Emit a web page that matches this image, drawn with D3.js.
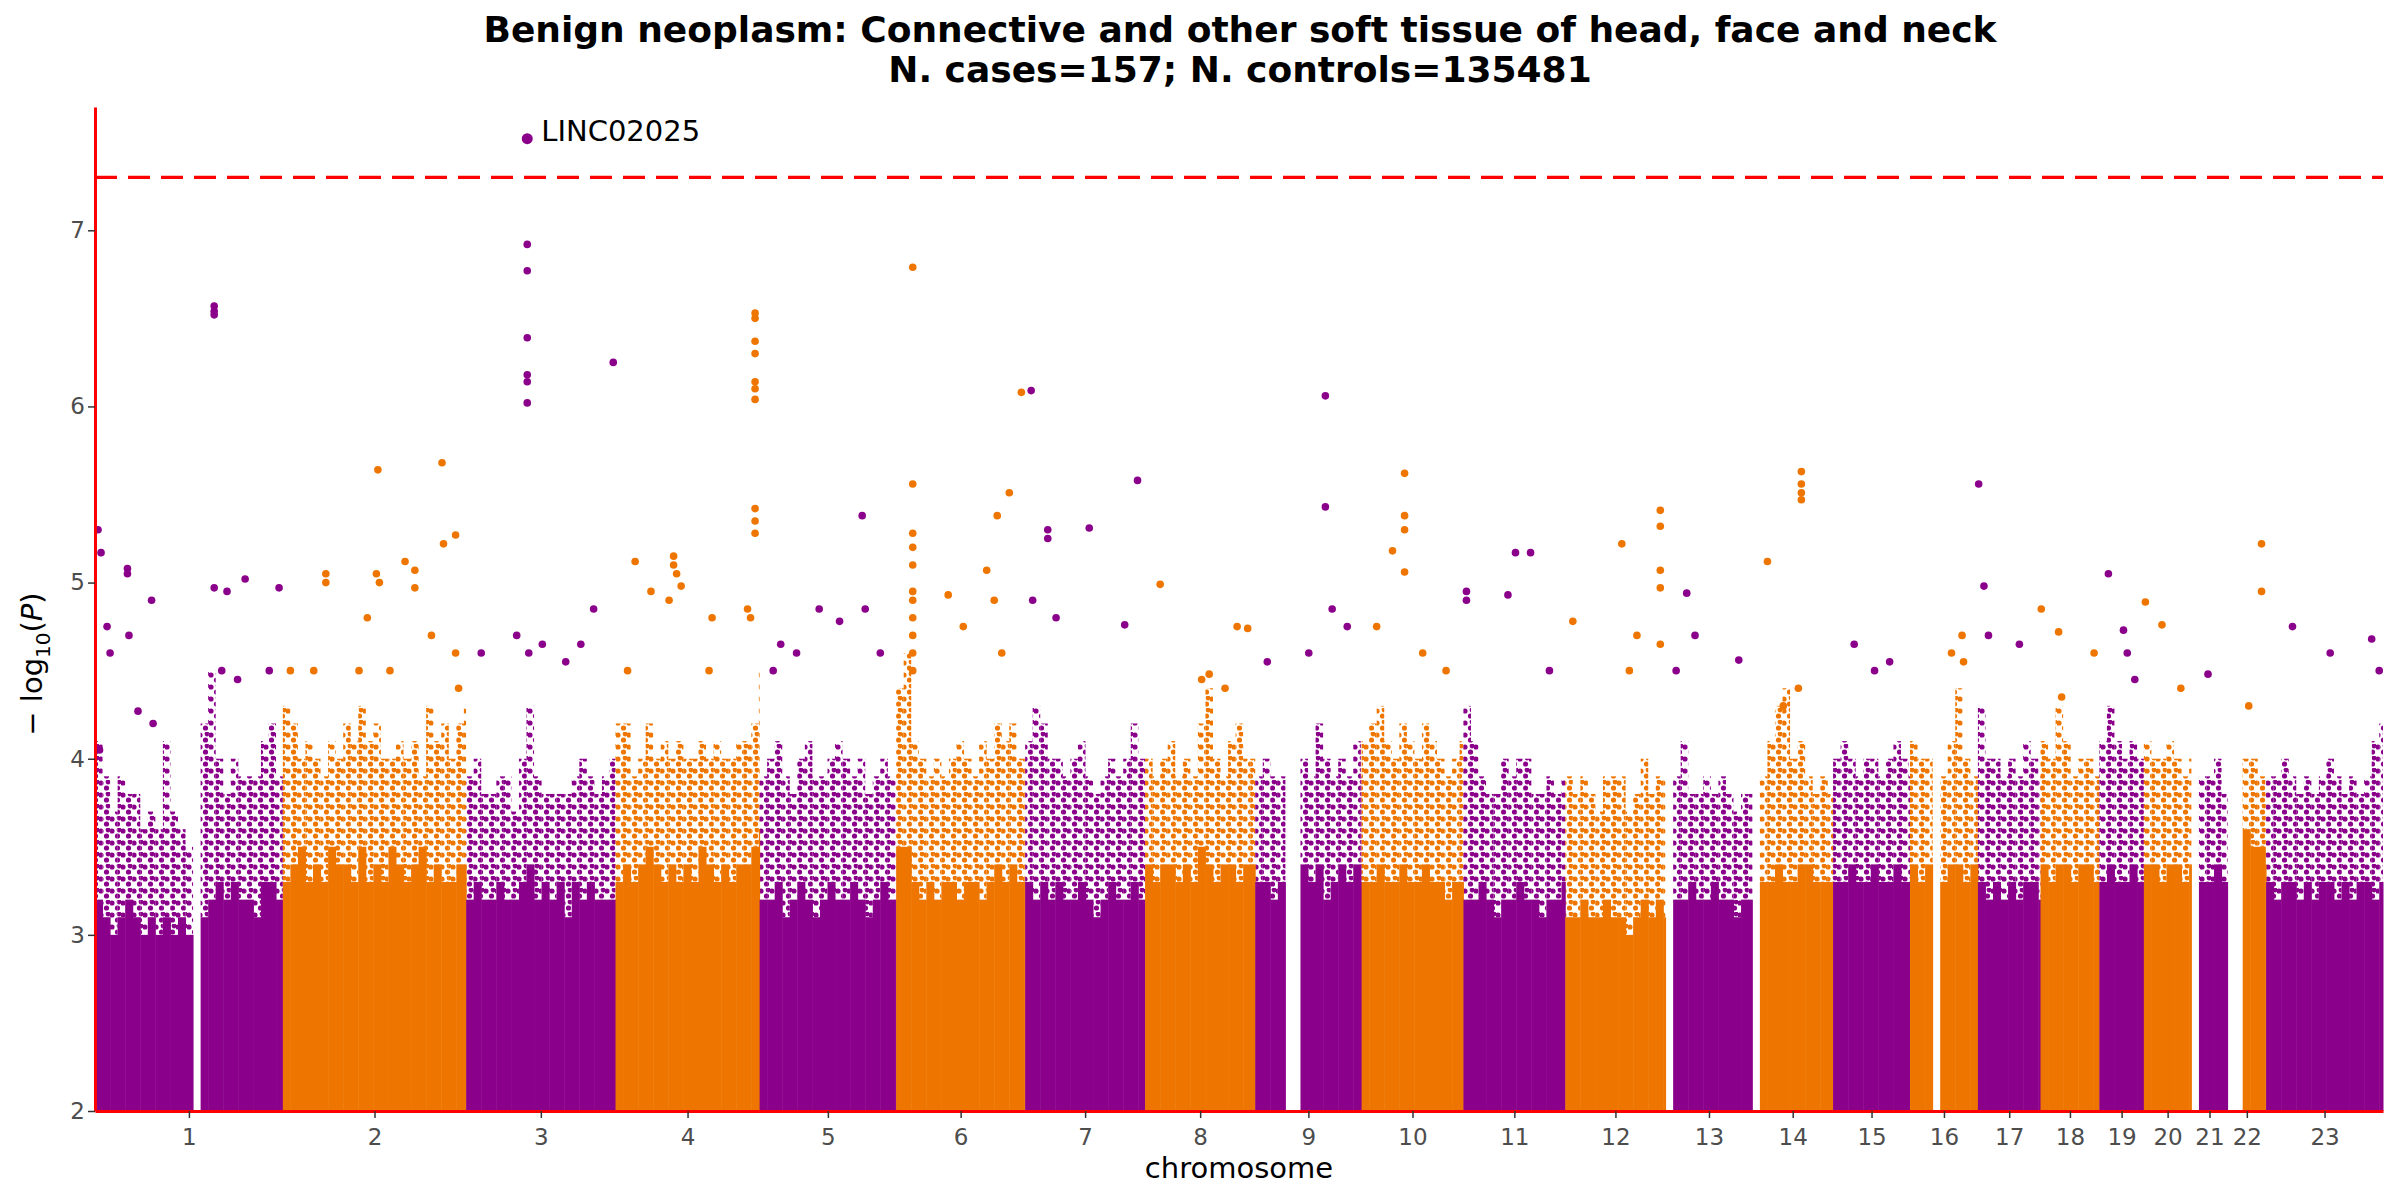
<!DOCTYPE html>
<html>
<head>
<meta charset="utf-8">
<script src="https://cdn.jsdelivr.net/npm/d3@7"></script>
<style>
  body { margin: 0; background: #fff; }
  text { font-family: "DejaVu Sans", sans-serif; }
</style>
</head>
<body>
<script>
// chromosome names and lengths (Mb)
const chroms = ['1','2','3','4','5','6','7','8','9','10','11','12','13','14','15','16','17','18','19','20','21','22','23'];
const chromLen = [249,243,198,191,181,171,159,146,141,135,135,133,115,107,102,90,83,78,59,63,48,51,155];

// dense band top (-log10 P) per 10 Mb bin, 0 = no variants
const denseTop = [
  [3.2,3.1,3.0,3.1,3.2,3.1,3.0,3.1,3.0,3.1,3.0,3.1,3.0,0,3.1,3.2,3.3,3.2,3.3,3.2,3.2,3.1,3.3,3.3,3.2],
  [3.3,3.4,3.5,3.3,3.4,3.3,3.5,3.4,3.4,3.3,3.5,3.3,3.4,3.3,3.5,3.4,3.3,3.4,3.5,3.3,3.4,3.3,3.3,3.4,3.4],
  [3.2,3.3,3.2,3.2,3.3,3.2,3.2,3.3,3.4,3.2,3.3,3.2,3.3,3.1,3.3,3.2,3.3,3.2,3.2,3.2],
  [3.3,3.4,3.3,3.4,3.5,3.4,3.3,3.4,3.3,3.4,3.3,3.5,3.4,3.3,3.4,3.3,3.4,3.4,3.5,3.6],
  [3.2,3.2,3.3,3.1,3.2,3.3,3.2,3.1,3.2,3.3,3.2,3.2,3.3,3.2,3.1,3.2,3.3,3.2,3.2],
  [3.5,3.5,3.3,3.2,3.3,3.2,3.3,3.3,3.2,3.3,3.3,3.2,3.3,3.4,3.3,3.4,3.3,3.3],
  [3.3,3.2,3.3,3.2,3.3,3.2,3.2,3.3,3.2,3.1,3.2,3.3,3.2,3.2,3.3,3.2],
  [3.4,3.3,3.4,3.4,3.3,3.4,3.3,3.5,3.4,3.3,3.4,3.4,3.3,3.4,3.4],
  [3.3,3.3,3.2,3.3,0,0,3.4,3.3,3.4,3.2,3.3,3.4,3.3,3.4,3.3],
  [3.3,3.3,3.4,3.3,3.3,3.4,3.3,3.3,3.4,3.3,3.3,3.2,3.3,3.3],
  [3.2,3.2,3.3,3.2,3.1,3.2,3.2,3.3,3.2,3.2,3.1,3.2,3.2,3.3],
  [3.1,3.1,3.2,3.1,3.1,3.2,3.1,3.1,3.0,3.1,3.2,3.1,3.2,3.1],
  [0,3.2,3.2,3.3,3.2,3.2,3.3,3.2,3.2,3.1,3.2,3.2],
  [0,3.3,3.3,3.4,3.3,3.3,3.4,3.4,3.3,3.3,3.3],
  [3.3,3.3,3.4,3.3,3.3,3.4,3.3,3.3,3.4,3.3,3.3],
  [3.4,3.3,3.4,0,3.3,3.4,3.4,3.3,3.4],
  [3.3,3.2,3.3,3.2,3.3,3.2,3.3,3.3,3.2],
  [3.4,3.3,3.4,3.4,3.3,3.4,3.4,3.3],
  [3.3,3.4,3.3,3.3,3.4,3.3],
  [3.4,3.4,3.3,3.4,3.4,3.3,3.4],
  [0,3.3,3.3,3.4,3.3],
  [0,0,3.6,3.5,3.5,3.4],
  [3.3,3.2,3.3,3.3,3.2,3.3,3.2,3.3,3.3,3.2,3.3,3.2,3.3,3.3,3.2,3.3]
];

// sparse spray top per bin
const sparseTop = [
  [4.1,3.9,3.7,3.9,3.8,3.8,3.6,3.7,3.6,4.1,3.7,3.6,3.5,0,4.2,4.5,4.0,3.8,4.0,3.9,3.9,3.9,4.1,4.2,3.9],
  [4.3,4.2,4.0,4.1,4.0,3.9,4.1,4.0,4.2,4.1,4.3,4.1,4.2,4.0,4.0,4.1,4.0,4.1,3.9,4.3,4.1,4.2,4.0,4.2,4.3],
  [3.9,4.0,3.8,3.8,3.9,3.9,3.7,4.0,4.3,3.9,3.8,3.8,3.8,3.8,3.9,4.0,3.9,3.8,3.9,4.0],
  [4.2,4.2,3.9,4.0,4.2,4.0,4.1,4.0,4.1,4.0,4.0,4.1,4.0,4.1,4.0,4.0,4.1,4.1,4.2,4.5],
  [3.9,4.0,4.1,3.9,3.8,4.0,4.1,3.9,3.9,4.0,4.1,4.0,3.9,4.0,3.8,3.9,4.0,3.9,3.9],
  [4.4,4.6,4.1,4.0,3.9,4.0,3.9,4.0,4.1,4.0,3.9,4.1,4.0,4.2,4.1,4.2,4.0,4.0],
  [4.1,4.3,4.2,4.0,4.0,3.9,4.0,4.1,3.9,3.8,3.9,4.0,3.9,4.0,4.2,4.0],
  [4.0,3.9,4.0,4.1,3.9,4.0,3.9,4.2,4.4,4.0,3.9,4.1,4.2,4.0,4.0],
  [3.9,4.0,3.9,3.9,0,0,4.0,3.9,4.2,4.0,3.9,4.0,3.9,4.1,3.9],
  [4.1,4.2,4.3,4.1,4.0,4.2,4.1,4.0,4.2,4.1,4.0,3.9,4.0,4.1],
  [4.3,4.1,3.9,3.8,3.8,4.0,3.9,4.0,4.0,3.8,3.8,3.9,3.8,3.9],
  [3.9,3.8,3.9,3.8,3.7,3.9,3.9,3.9,3.7,3.8,4.0,3.8,3.9,3.9],
  [0,3.9,4.1,3.8,3.8,3.9,3.8,3.9,3.8,3.7,3.8,3.8],
  [0,3.9,4.1,4.3,4.4,4.0,4.1,3.9,3.8,3.9,3.8],
  [4.0,4.1,4.0,3.9,4.0,4.0,3.9,4.0,4.1,4.0,3.9],
  [4.1,4.0,4.0,0,3.9,4.1,4.4,4.0,3.9],
  [4.3,4.0,4.0,3.9,4.0,3.9,4.1,4.0,3.9],
  [4.1,4.0,4.3,4.1,3.9,4.0,4.0,3.9],
  [4.1,4.3,4.1,4.0,4.1,4.0],
  [4.1,4.0,4.0,4.1,4.0,3.9,4.0],
  [0,3.9,3.9,4.0,3.8],
  [0,0,4.0,4.0,3.9,3.8],
  [3.9,3.9,4.0,3.9,3.8,3.9,3.8,3.9,4.0,3.9,3.8,3.9,3.8,3.9,4.1,4.2]
];

// notable variants: [chromosome index, position Mb, -log10 P]
const peaks = [
  [0,4,5.3],[0,8,5.17],[0,43,5.08],[0,43,5.05],[0,16,4.75],[0,45,4.7],[0,75,4.9],[0,57,4.27],[0,77,4.2],[0,20,4.6],[0,6,4.05],
  [0,158,6.57],[0,158,6.54],[0,158,6.52],[0,158,4.97],[0,175,4.95],[0,199,5.02],[0,244,4.97],[0,168,4.5],[0,189,4.45],[0,231,4.5],
  [1,10,4.5],[1,57,5.05],[1,57,5.0],[1,112,4.8],[1,126,5.64],[1,124,5.05],[1,128,5.0],[1,162,5.12],[1,175,5.07],[1,175,4.97],
  [1,211,5.68],[1,213,5.22],[1,229,5.27],[1,197,4.7],[1,229,4.6],[1,41,4.5],[1,101,4.5],[1,142,4.5],[1,233,4.4],
  [2,81,7.52],[2,81,6.92],[2,81,6.77],[2,81,6.39],[2,81,6.18],[2,81,6.14],[2,81,6.02],[2,67,4.7],[2,83,4.6],[2,101,4.65],
  [2,152,4.65],[2,169,4.85],[2,195,6.25],[2,20,4.6],[2,132,4.55],
  [3,26,5.12],[3,16,4.5],[3,77,5.15],[3,77,5.1],[3,81,5.05],[3,87,4.98],[3,71,4.9],[3,128,4.8],[3,124,4.5],[3,47,4.95],[3,175,4.85],
  [3,185,6.53],[3,185,6.5],[3,185,6.37],[3,185,6.3],[3,185,6.14],[3,185,6.1],[3,185,6.04],[3,185,5.42],[3,185,5.35],[3,185,5.28],[3,179,4.8],
  [4,28,4.65],[4,49,4.6],[4,79,4.85],[4,106,4.78],[4,136,5.38],[4,140,4.85],[4,160,4.6],[4,18,4.5],
  [5,22,6.79],[5,22,5.56],[5,22,5.28],[5,22,5.2],[5,22,5.1],[5,22,4.95],[5,22,4.9],[5,22,4.8],[5,22,4.7],[5,22,4.6],[5,22,4.5],
  [5,69,4.93],[5,89,4.75],[5,120,5.07],[5,134,5.38],[5,150,5.51],[5,166,6.08],[5,130,4.9],[5,140,4.6],
  [6,8,6.09],[6,30,5.3],[6,30,5.25],[6,85,5.31],[6,132,4.76],[6,10,4.9],[6,41,4.8],[6,149,5.58],
  [7,20,4.99],[7,75,4.45],[7,85,4.48],[7,122,4.75],[7,136,4.74],[7,106,4.4],
  [8,93,6.06],[8,93,5.43],[8,102,4.85],[8,71,4.6],[8,122,4.75],[8,16,4.55],
  [9,41,5.18],[9,57,5.62],[9,57,5.38],[9,57,5.3],[9,57,5.06],[9,20,4.75],[9,81,4.6],[9,112,4.5],
  [10,4,4.95],[10,4,4.9],[10,69,5.17],[10,89,5.17],[10,59,4.93],[10,114,4.5],
  [11,10,4.78],[11,75,5.22],[11,95,4.7],[11,126,5.41],[11,126,5.32],[11,126,5.07],[11,126,4.97],[11,126,4.65],[11,85,4.5],
  [12,28,4.94],[12,39,4.7],[12,97,4.56],[12,14,4.5],
  [13,20,5.12],[13,65,5.63],[13,65,5.56],[13,65,5.51],[13,65,5.47],[13,61,4.4],[13,41,4.3],
  [14,28,4.65],[14,75,4.55],[14,55,4.5],
  [15,55,4.6],[15,69,4.7],[15,71,4.55],
  [16,1,5.56],[16,8,4.98],[16,14,4.7],[16,55,4.65],
  [17,1,4.85],[17,24,4.72],[17,28,4.35],[17,71,4.6],
  [18,12,5.05],[18,32,4.73],[18,37,4.6],[18,47,4.45],
  [19,2,4.89],[19,24,4.76],[19,49,4.4],
  [20,22,4.48],
  [21,45,5.22],[21,45,4.95],[21,28,4.3],
  [22,35,4.75],[22,85,4.6],[22,140,4.68],[22,150,4.5]
];

const hitLabel = { chr: 2, pos: 81, p: 7.52, text: 'LINC02025' };
const threshold = 7.3;
const yTicks = [2, 3, 4, 5, 6, 7];

const width = 2400, height = 1200;
const plot = { x0: 95, x1: 2383, y0: 107, y1: 1111 };
const colors = ['#8B008B', '#EE7600'];

// cumulative chromosome offsets
const offsets = [];
let acc = 0;
chromLen.forEach((l) => { offsets.push(acc); acc += l; });

const svg = d3.select('body').append('svg')
  .attr('width', width).attr('height', height);

const x = d3.scaleLinear().domain([0, acc]).range([plot.x0, plot.x1]);
const y = d3.scaleLinear().domain([2, 7.7]).range([plot.y1, plot.y0]);

// dotted textures for the sparse spray above the dense band
const defs = svg.append('defs');
colors.forEach((c, i) => {
  const p = defs.append('pattern').attr('id', 'spray' + i)
    .attr('width', 11).attr('height', 12).attr('patternUnits', 'userSpaceOnUse');
  p.append('circle').attr('cx', 2).attr('cy', 3).attr('r', 2.6).attr('fill', c);
  p.append('circle').attr('cx', 7.5).attr('cy', 8).attr('r', 2.6).attr('fill', c);
  p.append('circle').attr('cx', 9).attr('cy', 2).attr('r', 2.4).attr('fill', c);
});

// build bin table
const bins = [];
chromLen.forEach((len, ci) => {
  denseTop[ci].forEach((d, bi) => {
    const s = bi * 10, e = Math.min(len, s + 10);
    if (d > 0) bins.push({ ci, s, e, dense: d, sparse: sparseTop[ci][bi] });
  });
});

const g = svg.append('g');
g.selectAll('rect.sparse').data(bins).join('rect')
  .attr('class', 'sparse')
  .attr('x', (d) => x(offsets[d.ci] + d.s))
  .attr('width', (d) => x(offsets[d.ci] + d.e) - x(offsets[d.ci] + d.s))
  .attr('y', (d) => y(d.sparse))
  .attr('height', (d) => y(d.dense) - y(d.sparse))
  .attr('fill', (d) => `url(#spray${d.ci % 2})`);

g.selectAll('rect.dense').data(bins).join('rect')
  .attr('class', 'dense')
  .attr('x', (d) => x(offsets[d.ci] + d.s))
  .attr('width', (d) => x(offsets[d.ci] + d.e) - x(offsets[d.ci] + d.s) + 0.5)
  .attr('y', (d) => y(d.dense))
  .attr('height', (d) => y(2) - y(d.dense))
  .attr('fill', (d) => colors[d.ci % 2]);

g.selectAll('circle.peak').data(peaks).join('circle')
  .attr('class', 'peak')
  .attr('cx', (d) => x(offsets[d[0]] + d[1]))
  .attr('cy', (d) => y(d[2]))
  .attr('r', (d) => d[2] > 7.3 ? 5.5 : 3.8)
  .attr('fill', (d) => colors[d[0] % 2]);

// significance line
svg.append('line')
  .attr('x1', plot.x0).attr('x2', plot.x1)
  .attr('y1', y(threshold)).attr('y2', y(threshold))
  .attr('stroke', '#FF0000').attr('stroke-width', 3.2)
  .attr('stroke-dasharray', '22,11');

// hit label
svg.append('text')
  .attr('x', x(offsets[hitLabel.chr] + hitLabel.pos) + 14)
  .attr('y', y(hitLabel.p) + 2)
  .attr('font-size', 29).attr('fill', '#000')
  .text(hitLabel.text);

// axes
const xAxis = d3.axisBottom(x)
  .tickValues(chromLen.map((l, i) => offsets[i] + l / 2))
  .tickFormat((d, i) => chroms[i])
  .tickSize(7).tickSizeOuter(0);
const xg = svg.append('g').attr('transform', `translate(0,${plot.y1})`).call(xAxis);
xg.select('.domain').attr('stroke', '#FF0000').attr('stroke-width', 3);
xg.selectAll('.tick line').attr('stroke', '#333').attr('stroke-width', 1.5);
xg.selectAll('.tick text').attr('font-size', 23).attr('fill', '#4d4d4d').attr('dy', '1.05em');

const yAxis = d3.axisLeft(y).tickValues(yTicks).tickFormat(d3.format('d')).tickSize(7).tickSizeOuter(0);
const yg = svg.append('g').attr('transform', `translate(${plot.x0},0)`).call(yAxis);
yg.select('.domain').attr('stroke', '#FF0000').attr('stroke-width', 3);
yg.selectAll('.tick line').attr('stroke', '#333').attr('stroke-width', 1.5);
yg.selectAll('.tick text').attr('font-size', 23).attr('fill', '#4d4d4d');

// axis titles
svg.append('text')
  .attr('x', (plot.x0 + plot.x1) / 2).attr('y', 1178)
  .attr('text-anchor', 'middle').attr('font-size', 29)
  .text('chromosome');

const yl = svg.append('text')
  .attr('transform', `translate(42,${(plot.y0 + plot.y1) / 2 + 55}) rotate(-90)`)
  .attr('text-anchor', 'middle').attr('font-size', 29);
yl.append('tspan').text('\u2212 log');
yl.append('tspan').attr('font-size', 20).attr('dy', 8).text('10');
yl.append('tspan').attr('dy', -8).text('(');
yl.append('tspan').attr('font-style', 'italic').text('P');
yl.append('tspan').text(')');

// title
svg.append('text')
  .attr('x', 1240).attr('y', 42)
  .attr('text-anchor', 'middle').attr('font-size', 36).attr('font-weight', 'bold')
  .text('Benign neoplasm: Connective and other soft tissue of head, face and neck');
svg.append('text')
  .attr('x', 1240).attr('y', 82)
  .attr('text-anchor', 'middle').attr('font-size', 36).attr('font-weight', 'bold')
  .text('N. cases=157; N. controls=135481');
</script>
</body>
</html>
